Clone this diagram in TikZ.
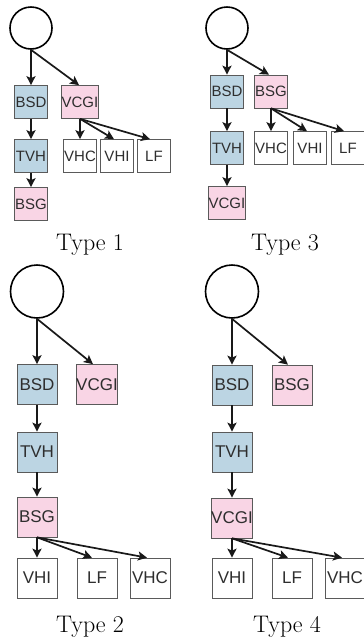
\documentclass[tikz,border=0pt]{standalone}
\usepackage{fontspec}
\setsansfont{Liberation Sans}
\usetikzlibrary{arrows.meta}
\definecolor{boxblue}{HTML}{BCD5E3}
\definecolor{boxpink}{HTML}{F9D5E5}
\definecolor{boxline}{HTML}{5A5A5A}
\definecolor{boxtext}{HTML}{2E2E2E}
\tikzset{
  root/.style={circle, draw=black, line width=1.6pt, inner sep=0pt},
  smallroot/.style={root, minimum size=42pt},
  bigroot/.style={root, minimum size=53pt},
  cell/.style={rectangle, draw=boxline, line width=0.7pt, inner sep=0pt,
    text=boxtext, font=\sffamily},
  smallcell/.style={cell, minimum size=33pt, font=\sffamily\fontsize{15}{15}\selectfont},
  bigcell/.style={cell, minimum size=40pt, font=\sffamily\fontsize{17}{17}\selectfont},
  blue/.style={fill=boxblue},
  pink/.style={fill=boxpink},
  plain/.style={fill=white},
  link/.style={line width=1.7pt, draw=black!90, -{Stealth[length=9pt,width=9pt,inset=2pt]}},
  caption/.style={font=\fontsize{24}{24}\selectfont}
}
\begin{document}
\begin{tikzpicture}[x=1pt, y=-1pt]
  \useasboundingbox (0,0) rectangle (364,641);

  % ---- Type 1 ----
  \node[smallroot] (r1) at (31,28) {};
  \node[smallcell, blue] (bsd1) at (31,102) {BSD};
  \node[smallcell, pink] (vcgi1) at (80,102) {VCGI};
  \node[smallcell, blue] (tvh1) at (31,156) {TVH};
  \node[smallcell, pink] (bsg1) at (31,204) {BSG};
  \node[smallcell, plain] (vhc1) at (80,156) {VHC};
  \node[smallcell, plain] (vhi1) at (117,156) {VHI};
  \node[smallcell, plain] (lf1) at (154,156) {LF};
  \node[caption] (t1) at (90,245) {Type 1};
  \draw[link] (r1.south) -- (bsd1.north);
  \draw[link] (r1.south) -- ([xshift=-1pt]vcgi1.north);
  \draw[link] (bsd1) -- (tvh1);
  \draw[link] (tvh1) -- (bsg1);
  \draw[link] (vcgi1.south) -- (vhc1.north);
  \draw[link] (vcgi1.south) -- ([xshift=-3pt]vhi1.north);
  \draw[link] (vcgi1.south) -- ([xshift=-4pt]lf1.north);

  % ---- Type 3 ----
  \node[smallroot] (r3) at (227,28) {};
  \node[smallcell, blue] (bsd3) at (227,91.5) {BSD};
  \node[smallcell, pink] (bsg3) at (271,91.5) {BSG};
  \node[smallcell, blue] (tvh3) at (227,148) {TVH};
  \node[smallcell, pink] (vcgi3) at (227,203) {VCGI};
  \node[smallcell, plain] (vhc3) at (271,148) {VHC};
  \node[smallcell, plain] (vhi3) at (310,148) {VHI};
  \node[smallcell, plain] (lf3) at (348,148) {LF};
  \node[caption] (t3) at (285,245) {Type 3};
  \draw[link] (r3.south) -- (bsd3.north);
  \draw[link] (r3.south) -- ([xshift=-2pt]bsg3.north);
  \draw[link] (bsd3) -- (tvh3);
  \draw[link] (tvh3) -- (vcgi3);
  \draw[link] (bsg3.south) -- (vhc3.north);
  \draw[link] (bsg3.south) -- ([xshift=-3pt]vhi3.north);
  \draw[link] (bsg3.south) -- ([xshift=-4pt]lf3.north);

  % ---- Type 2 ----
  \node[bigroot] (r2) at (37,291.5) {};
  \node[bigcell, blue] (bsd2) at (37,384.5) {BSD};
  \node[bigcell, pink] (vcgi2) at (97,384.5) {VCGI};
  \node[bigcell, blue] (tvh2) at (37,452) {TVH};
  \node[bigcell, pink] (bsg2) at (37,517) {BSG};
  \node[bigcell, plain] (vhi2) at (37,578) {VHI};
  \node[bigcell, plain] (lf2) at (97,578) {LF};
  \node[bigcell, plain] (vhc2) at (150,578) {VHC};
  \node[caption] (t2) at (90,627) {Type 2};
  \draw[link] (r2.south) -- (bsd2.north);
  \draw[link] (r2.south) -- ([xshift=-4pt]vcgi2.north);
  \draw[link] (bsd2) -- (tvh2);
  \draw[link] (tvh2) -- (bsg2);
  \draw[link] (bsg2.south) -- (vhi2.north);
  \draw[link] (bsg2.south) -- ([xshift=-5pt]lf2.north);
  \draw[link] (bsg2.south) -- ([xshift=-3pt]vhc2.north);

  % ---- Type 4 ----
  \node[bigroot] (r4) at (232,291.5) {};
  \node[bigcell, blue] (bsd4) at (232,385) {BSD};
  \node[bigcell, pink] (bsg4) at (292,385) {BSG};
  \node[bigcell, blue] (tvh4) at (232,452) {TVH};
  \node[bigcell, pink] (vcgi4) at (232,518) {VCGI};
  \node[bigcell, plain] (vhi4) at (232,578) {VHI};
  \node[bigcell, plain] (lf4) at (292,578) {LF};
  \node[bigcell, plain] (vhc4) at (345,578) {VHC};
  \node[caption] (t4) at (287,627) {Type 4};
  \draw[link] (r4.south) -- (bsd4.north);
  \draw[link] (r4.south) -- ([xshift=-4pt]bsg4.north);
  \draw[link] (bsd4) -- (tvh4);
  \draw[link] (tvh4) -- (vcgi4);
  \draw[link] (vcgi4.south) -- (vhi4.north);
  \draw[link] (vcgi4.south) -- ([xshift=-4pt]lf4.north);
  \draw[link] (vcgi4.south) -- ([xshift=-3pt]vhc4.north);
\end{tikzpicture}
\end{document}
